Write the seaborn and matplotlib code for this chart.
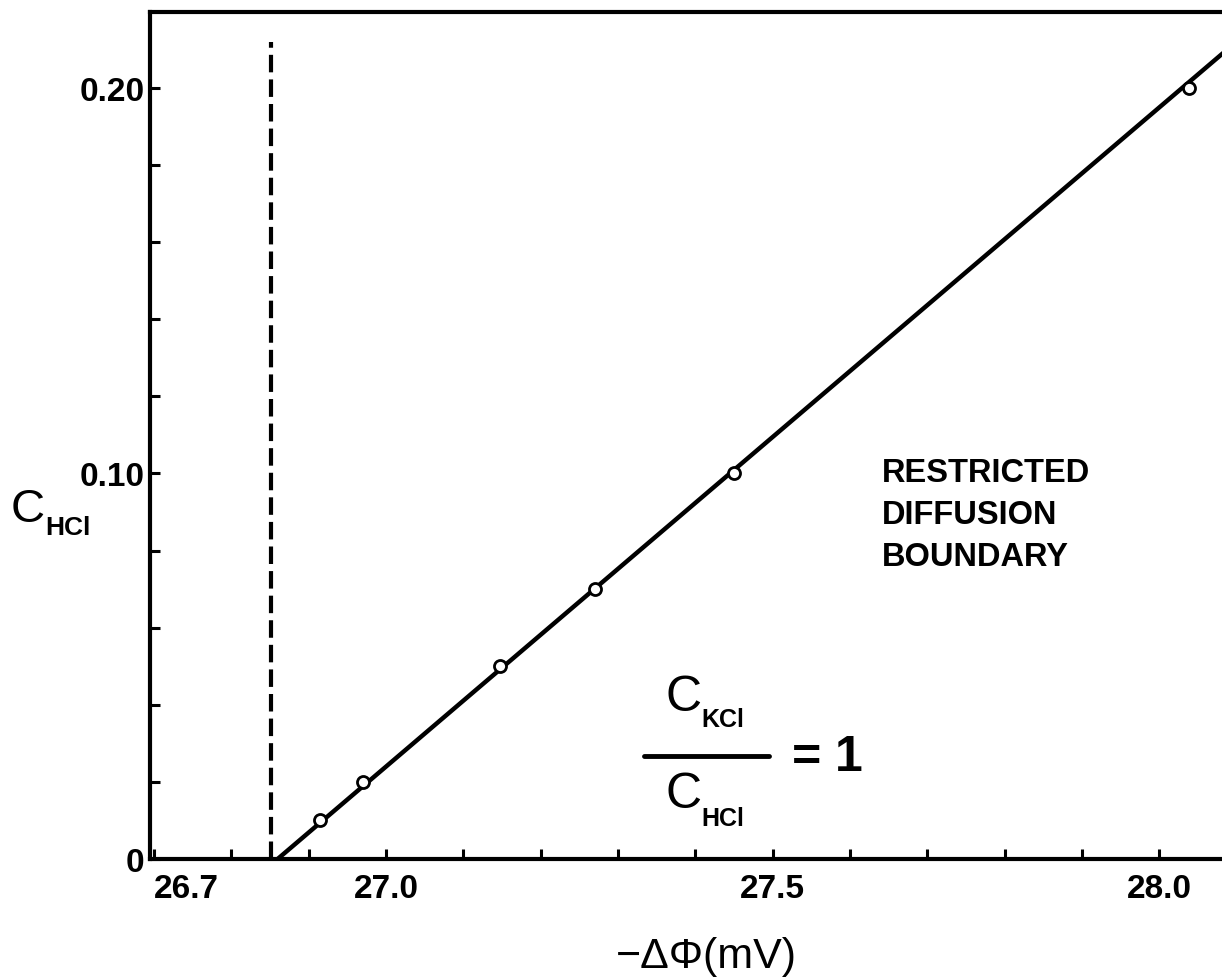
import matplotlib
matplotlib.use("Agg")
import matplotlib.pyplot as plt
from matplotlib.ticker import FixedLocator, MultipleLocator
import seaborn as sns
import pandas as pd

delta_phi = [26.915, 26.971, 27.147, 27.270, 27.450, 28.038]
c_hcl = [0.010, 0.020, 0.050, 0.070, 0.100, 0.200]

# straight line through the points (end points)
fit_x = [26.860, 28.085]
fit_y = [0.000, 0.2095]

# restricted diffusion boundary
boundary_x = 26.852
boundary_top = 0.212

x_major = [26.7, 27.0, 27.5, 28.0]
x_labels = ["26.7", "27.0", "27.5", "28.0"]
y_major = [0.0, 0.10, 0.20]
y_labels = ["0", "0.10", "0.20"]

pts = pd.DataFrame({"dphi": delta_phi, "c": c_hcl})
fit = pd.DataFrame({"dphi": fit_x, "c": fit_y})

sns.set_style("ticks")
plt.rcParams["font.family"] = ["Liberation Sans", "DejaVu Sans"]
for k in ["text.color", "axes.labelcolor", "xtick.color", "ytick.color", "axes.edgecolor"]:
    plt.rcParams[k] = "black"

fig = plt.figure(figsize=(12.22, 9.79), dpi=100)
ax = fig.add_axes([150 / 1222, 1 - 860 / 979, 1 - 150 / 1222, (860 - 13) / 979])

sns.lineplot(data=fit, x="dphi", y="c", color="black", lw=3.2, ax=ax, zorder=2)
sns.scatterplot(data=pts, x="dphi", y="c", marker="o", s=75, facecolor="white",
                edgecolor="black", linewidth=2, ax=ax, zorder=3)
ax.plot([boundary_x, boundary_x], [0, boundary_top], color="black", lw=3,
        dashes=(4.2, 1.7), zorder=1)

ax.set_xlim(26.695, 28.081)
ax.set_ylim(0, 0.2197)

ax.xaxis.set_major_locator(FixedLocator(x_major))
ax.set_xticklabels(x_labels)
ax.xaxis.set_minor_locator(MultipleLocator(0.1))
ax.yaxis.set_major_locator(FixedLocator(y_major))
ax.set_yticklabels(y_labels)
ax.yaxis.set_minor_locator(MultipleLocator(0.02))

ax.tick_params(which="both", direction="in", length=7, width=2.2, color="black")
ax.tick_params(axis="x", which="major", pad=10, labelsize=24)
ax.tick_params(axis="y", which="major", pad=4, labelsize=24)
for lab in ax.get_xticklabels() + ax.get_yticklabels():
    lab.set_fontweight("bold")
ax.get_xticklabels()[0].set_ha("left")

for side in ["left", "bottom", "top"]:
    ax.spines[side].set_linewidth(3)
ax.spines["right"].set_visible(False)

ax.set_xlabel("")
ax.set_ylabel("")
ax.text(0.519, -0.114, "\u2212\u0394\u03a6(mV)", transform=ax.transAxes,
        ha="center", va="center", fontsize=31)

# y label: C with bold HCl subscript
ax.text(-0.1138, 0.413, "C", transform=ax.transAxes, ha="center", va="center", fontsize=34)
ax.text(-0.098, 0.392, "HCl", transform=ax.transAxes, ha="left", va="center",
        fontsize=19, fontweight="bold")

ax.text(0.683, 0.4746, "RESTRICTED\nDIFFUSION\nBOUNDARY", transform=ax.transAxes,
        ha="left", va="top", fontsize=23.5, fontweight="bold", linespacing=1.46)

# C_KCl / C_HCl = 1
ax.text(0.498, 0.191, "C", transform=ax.transAxes, ha="center", va="center", fontsize=36)
ax.text(0.514, 0.165, "KCl", transform=ax.transAxes, ha="left", va="center",
        fontsize=18, fontweight="bold")
ax.plot([0.4608, 0.5774], [0.1216, 0.1216], transform=ax.transAxes, color="black",
        lw=3.5, solid_capstyle="round")
ax.text(0.498, 0.0767, "C", transform=ax.transAxes, ha="center", va="center", fontsize=36)
ax.text(0.514, 0.0484, "HCl", transform=ax.transAxes, ha="left", va="center",
        fontsize=18, fontweight="bold")
ax.text(0.612, 0.119, "=", transform=ax.transAxes, ha="center", va="center",
        fontsize=36, fontweight="bold")
ax.text(0.652, 0.120, "1", transform=ax.transAxes, ha="center", va="center",
        fontsize=36, fontweight="bold")

fig.savefig("out.png", dpi=100)
